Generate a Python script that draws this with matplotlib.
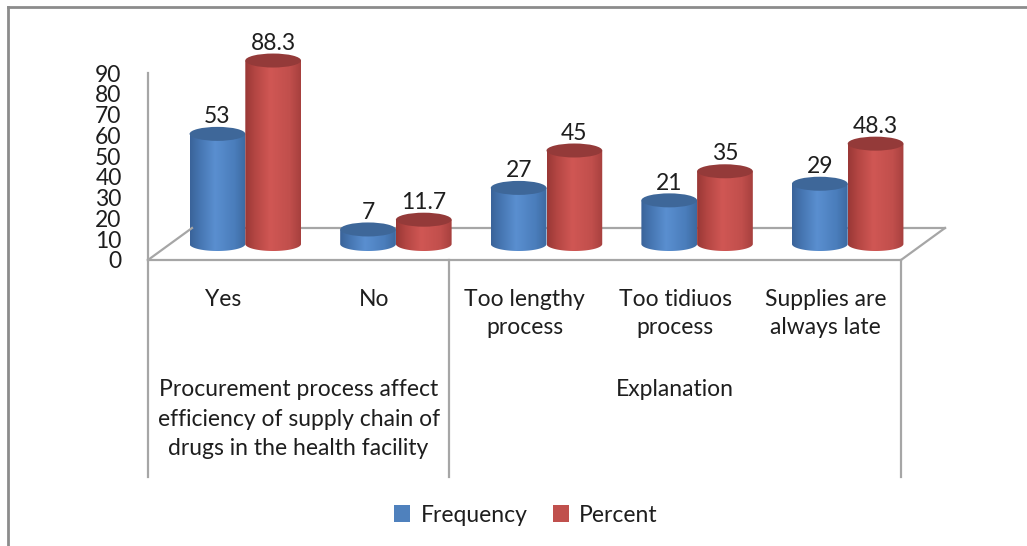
import numpy as np
import matplotlib
matplotlib.use("Agg")
import matplotlib.pyplot as plt
import matplotlib.lines as mlines
from matplotlib.path import Path
from matplotlib.patches import PathPatch, Ellipse, Patch
from matplotlib.colors import LinearSegmentedColormap
from matplotlib.transforms import ScaledTranslation, blended_transform_factory

# ---------------- data ----------------
categories = ["Yes", "No", "Too lengthy\nprocess", "Too tidiuos\nprocess", "Supplies are\nalways late"]
groups = ["Procurement process affect\nefficiency of supply chain of\ndrugs in the health facility", "Explanation"]
group_spans = [(0, 1), (2, 4)]
series_names = ["Frequency", "Percent"]
frequency = [53, 7, 27, 21, 29]
percent = [88.3, 11.7, 45, 35, 48.3]
yticks = [0, 10, 20, 30, 40, 50, 60, 70, 80, 90]

plt.rcParams['font.family'] = ['Lato', 'DejaVu Sans']
FS = 16.5
TXT = '#1e1e1e'
GRAY = '#a6a6a6'

W, H, DPI = 1027, 546, 100
fig = plt.figure(figsize=(W / DPI, H / DPI), dpi=DPI)
fig.patch.set_facecolor('white')

# axes: front plane; x in category units, y in value units
px_per_cat = (901 - 148) / 5.0
px_per_val = (260 - 73) / 90.0
x_right = -0.5 + (W - 148) / px_per_cat
y_top = 260 / px_per_val
ax = fig.add_axes([148 / W, (H - 260) / H, (W - 148) / W, 260 / H])
ax.set_xlim(-0.5, x_right)
ax.set_ylim(0, y_top)
ax.set_facecolor('none')

for s in ['top', 'right']:
    ax.spines[s].set_visible(False)
for s in ['left', 'bottom']:
    ax.spines[s].set_color(GRAY)
    ax.spines[s].set_linewidth(1.6)
ax.spines['left'].set_bounds(0, 90)
ax.spines['bottom'].set_bounds(-0.5, 4.5)

ax.set_yticks(yticks)
ax.set_yticklabels([str(v) for v in yticks], fontsize=FS, color=TXT)
ax.tick_params(axis='y', length=0, pad=19)
ax.set_xticks([])

# depth offsets (pixels -> inches)
mid = ax.transData + ScaledTranslation(22 / DPI, 16 / DPI, fig.dpi_scale_trans)
back = ax.transData + ScaledTranslation(44 / DPI, 32 / DPI, fig.dpi_scale_trans)
front = ax.transData

# floor (side diagonals + back edge)
for xc in [-0.5, 4.5]:
    p0 = front.transform((xc, 0))
    p1 = back.transform((xc, 0))
    fig.add_artist(mlines.Line2D([p0[0], p1[0]], [p0[1], p1[1]], transform=None,
                                 color=GRAY, lw=1.6, zorder=1))
ax.plot([-0.5, 4.5], [0, 0], color=GRAY, lw=1.6, transform=back, zorder=1, clip_on=False)

# cylinders
blue_cmap = LinearSegmentedColormap.from_list('b', [(0, '#3a6399'), (0.18, '#4676b2'), (0.45, '#5a8fd0'), (0.8, '#4a7dbb'), (1, '#3d69a0')])
red_cmap = LinearSegmentedColormap.from_list('r', [(0, '#993836'), (0.18, '#b44643'), (0.45, '#d05754'), (0.8, '#c14f4c'), (1, '#a6403e')])
top_colors = ['#3e6799', '#943a39']
cmaps = [blue_cmap, red_cmap]
cyl_w = 0.37
ell_h = 14 / px_per_val
offsets = [-0.185, 0.185]
grad = np.linspace(0, 1, 256)[None, :]


def cylinder(xc, v, cmap, topc, z):
    x0, x1 = xc - cyl_w / 2, xc + cyl_w / 2
    t = np.linspace(np.pi, 2 * np.pi, 80)
    bx = xc + (cyl_w / 2) * np.cos(t)
    by = (ell_h / 2) * np.sin(t)
    verts = list(zip(bx, by)) + [(x1, v), (x0, v), (bx[0], by[0])]
    codes = [Path.MOVETO] + [Path.LINETO] * (len(verts) - 2) + [Path.CLOSEPOLY]
    patch = PathPatch(Path(verts, codes), transform=mid, facecolor='none', edgecolor='none', zorder=z)
    ax.add_patch(patch)
    im = ax.imshow(grad, cmap=cmap, extent=(x0, x1, -ell_h / 2, v), aspect='auto',
                   transform=mid, origin='lower', interpolation='bilinear', zorder=z)
    im.set_clip_path(patch)
    ax.add_patch(Ellipse((xc, v), cyl_w, ell_h, transform=mid, facecolor=topc, edgecolor='none', zorder=z + 0.1))


for si, vals in enumerate([frequency, percent]):
    for i, v in enumerate(vals):
        xc = i + offsets[si]
        cylinder(xc, v, cmaps[si], top_colors[si], 3 + si * 0.2)
        ax.annotate(f"{v:g}", (xc, v), xycoords=mid, xytext=(0, 12.5), textcoords='offset points',
                    ha='center', va='center', fontsize=FS, color=TXT, zorder=6, annotation_clip=False)

ax.set_xlim(-0.5, x_right)
ax.set_ylim(0, y_top)

# category axis (multi-level)
bt = blended_transform_factory(ax.transData, ax.transAxes)
ax_h_px = 260.0
for xd in [-0.5, 1.5, 4.5]:
    ax.plot([xd, xd], [0, -217 / ax_h_px], transform=bt, color=GRAY, lw=1.6, clip_on=False)
for i, lab in enumerate(categories):
    ax.text(i, -29 / ax_h_px, lab, transform=bt, ha='center', va='top', fontsize=FS, color=TXT,
            linespacing=1.42)
for (a, b), g in zip(group_spans, groups):
    ax.text((a + b) / 2, -119 / ax_h_px, g, transform=bt, ha='center', va='top', fontsize=FS, color=TXT,
            linespacing=1.5)

# outer border (left + top only visible)
fig.add_artist(mlines.Line2D([8, 8], [0, H - 7], transform=None, color='#8c8c8c', lw=2))
fig.add_artist(mlines.Line2D([8, W], [H - 7, H - 7], transform=None, color='#8c8c8c', lw=2))

# legend
handles = [Patch(facecolor='#4f81bd'), Patch(facecolor='#c0504d')]
fig.legend(handles, series_names, loc='center', bbox_to_anchor=(526 / W, 1 - 515 / H), ncol=2,
           frameon=False, fontsize=FS, handlelength=0.7, handleheight=0.7, handletextpad=0.45,
           columnspacing=1.1, labelcolor=TXT)

fig.savefig('out.png', dpi=DPI, facecolor='white')
